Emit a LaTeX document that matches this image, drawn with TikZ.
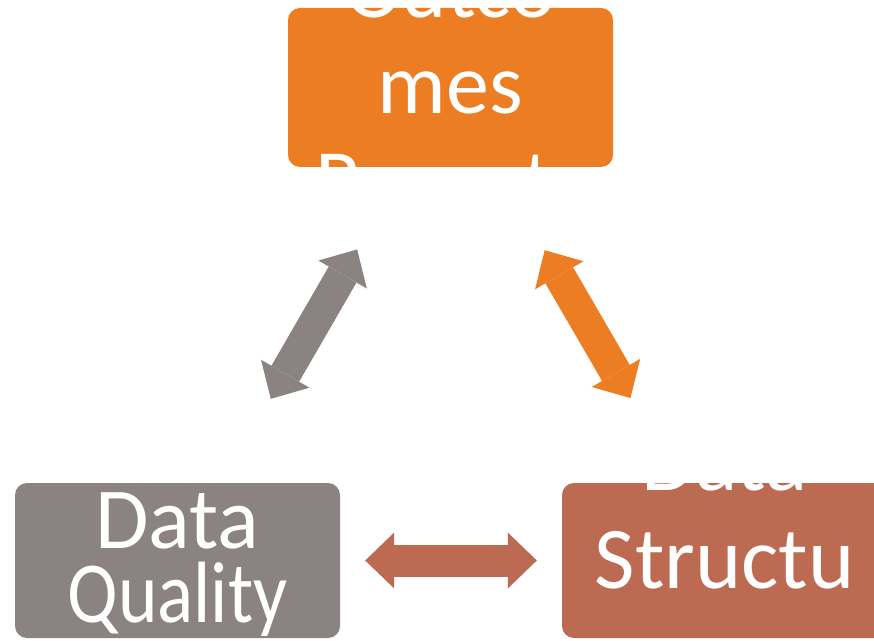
\documentclass[tikz,border=0pt]{standalone}
\usepackage{fontspec, graphicx}
\setmainfont{Carlito}
\usetikzlibrary{arrows.meta}
\definecolor{boxorange}{RGB}{237,125,34}
\definecolor{boxgray}{RGB}{139,131,130}
\definecolor{boxbrown}{RGB}{188,107,82}

\begin{document}
\begin{tikzpicture}[x=1pt, y=1pt,
    box/.style = {rounded corners = 12pt, minimum width = 325pt, inner sep = 0pt},
    boxtext/.style = {text = white, align = center},
    link/.style = {line width = 32pt, {Triangle[width = 56pt, length = 29pt, line width = 0pt]}-{Triangle[width = 56pt, length = 29pt, line width = 0pt]}}]
    \useasboundingbox (0,0) rectangle (874,640);
    \clip (0,0) rectangle (874,640);
    \node [box, fill = boxorange, minimum height = 159pt] (outcomes) at (450.5,552.5) {};
    \node [box, fill = boxgray, minimum height = 155pt] (quality) at (177.5,79.5) {};
    \node [box, fill = boxbrown, minimum height = 155pt] (structure) at (724.5,79.5) {};
    \node [boxtext, font = \fontsize{86}{96}\selectfont] (outcomestext) at (450.5,547) {Outco\\mes\\Reports};
    \node [boxtext, font = \fontsize{87}{74}\selectfont] (qualitytext) at (177.5,75) {Data\\\scalebox{0.865}[1]{Quality}};
    \node [boxtext, font = \fontsize{88}{98}\selectfont] (structuretext) at (724.5,128.5) {Data\\Structu};
    \draw [link, color = boxgray, shorten <= 97pt, shorten >= 95pt] (quality) -- (outcomes);
    \draw [link, color = boxorange, shorten <= 96pt, shorten >= 98pt] (outcomes) -- (structure);
    \draw [link, color = boxbrown, shorten <= 25pt, shorten >= 25pt] (quality) -- (structure);
\end{tikzpicture}
\end{document}
